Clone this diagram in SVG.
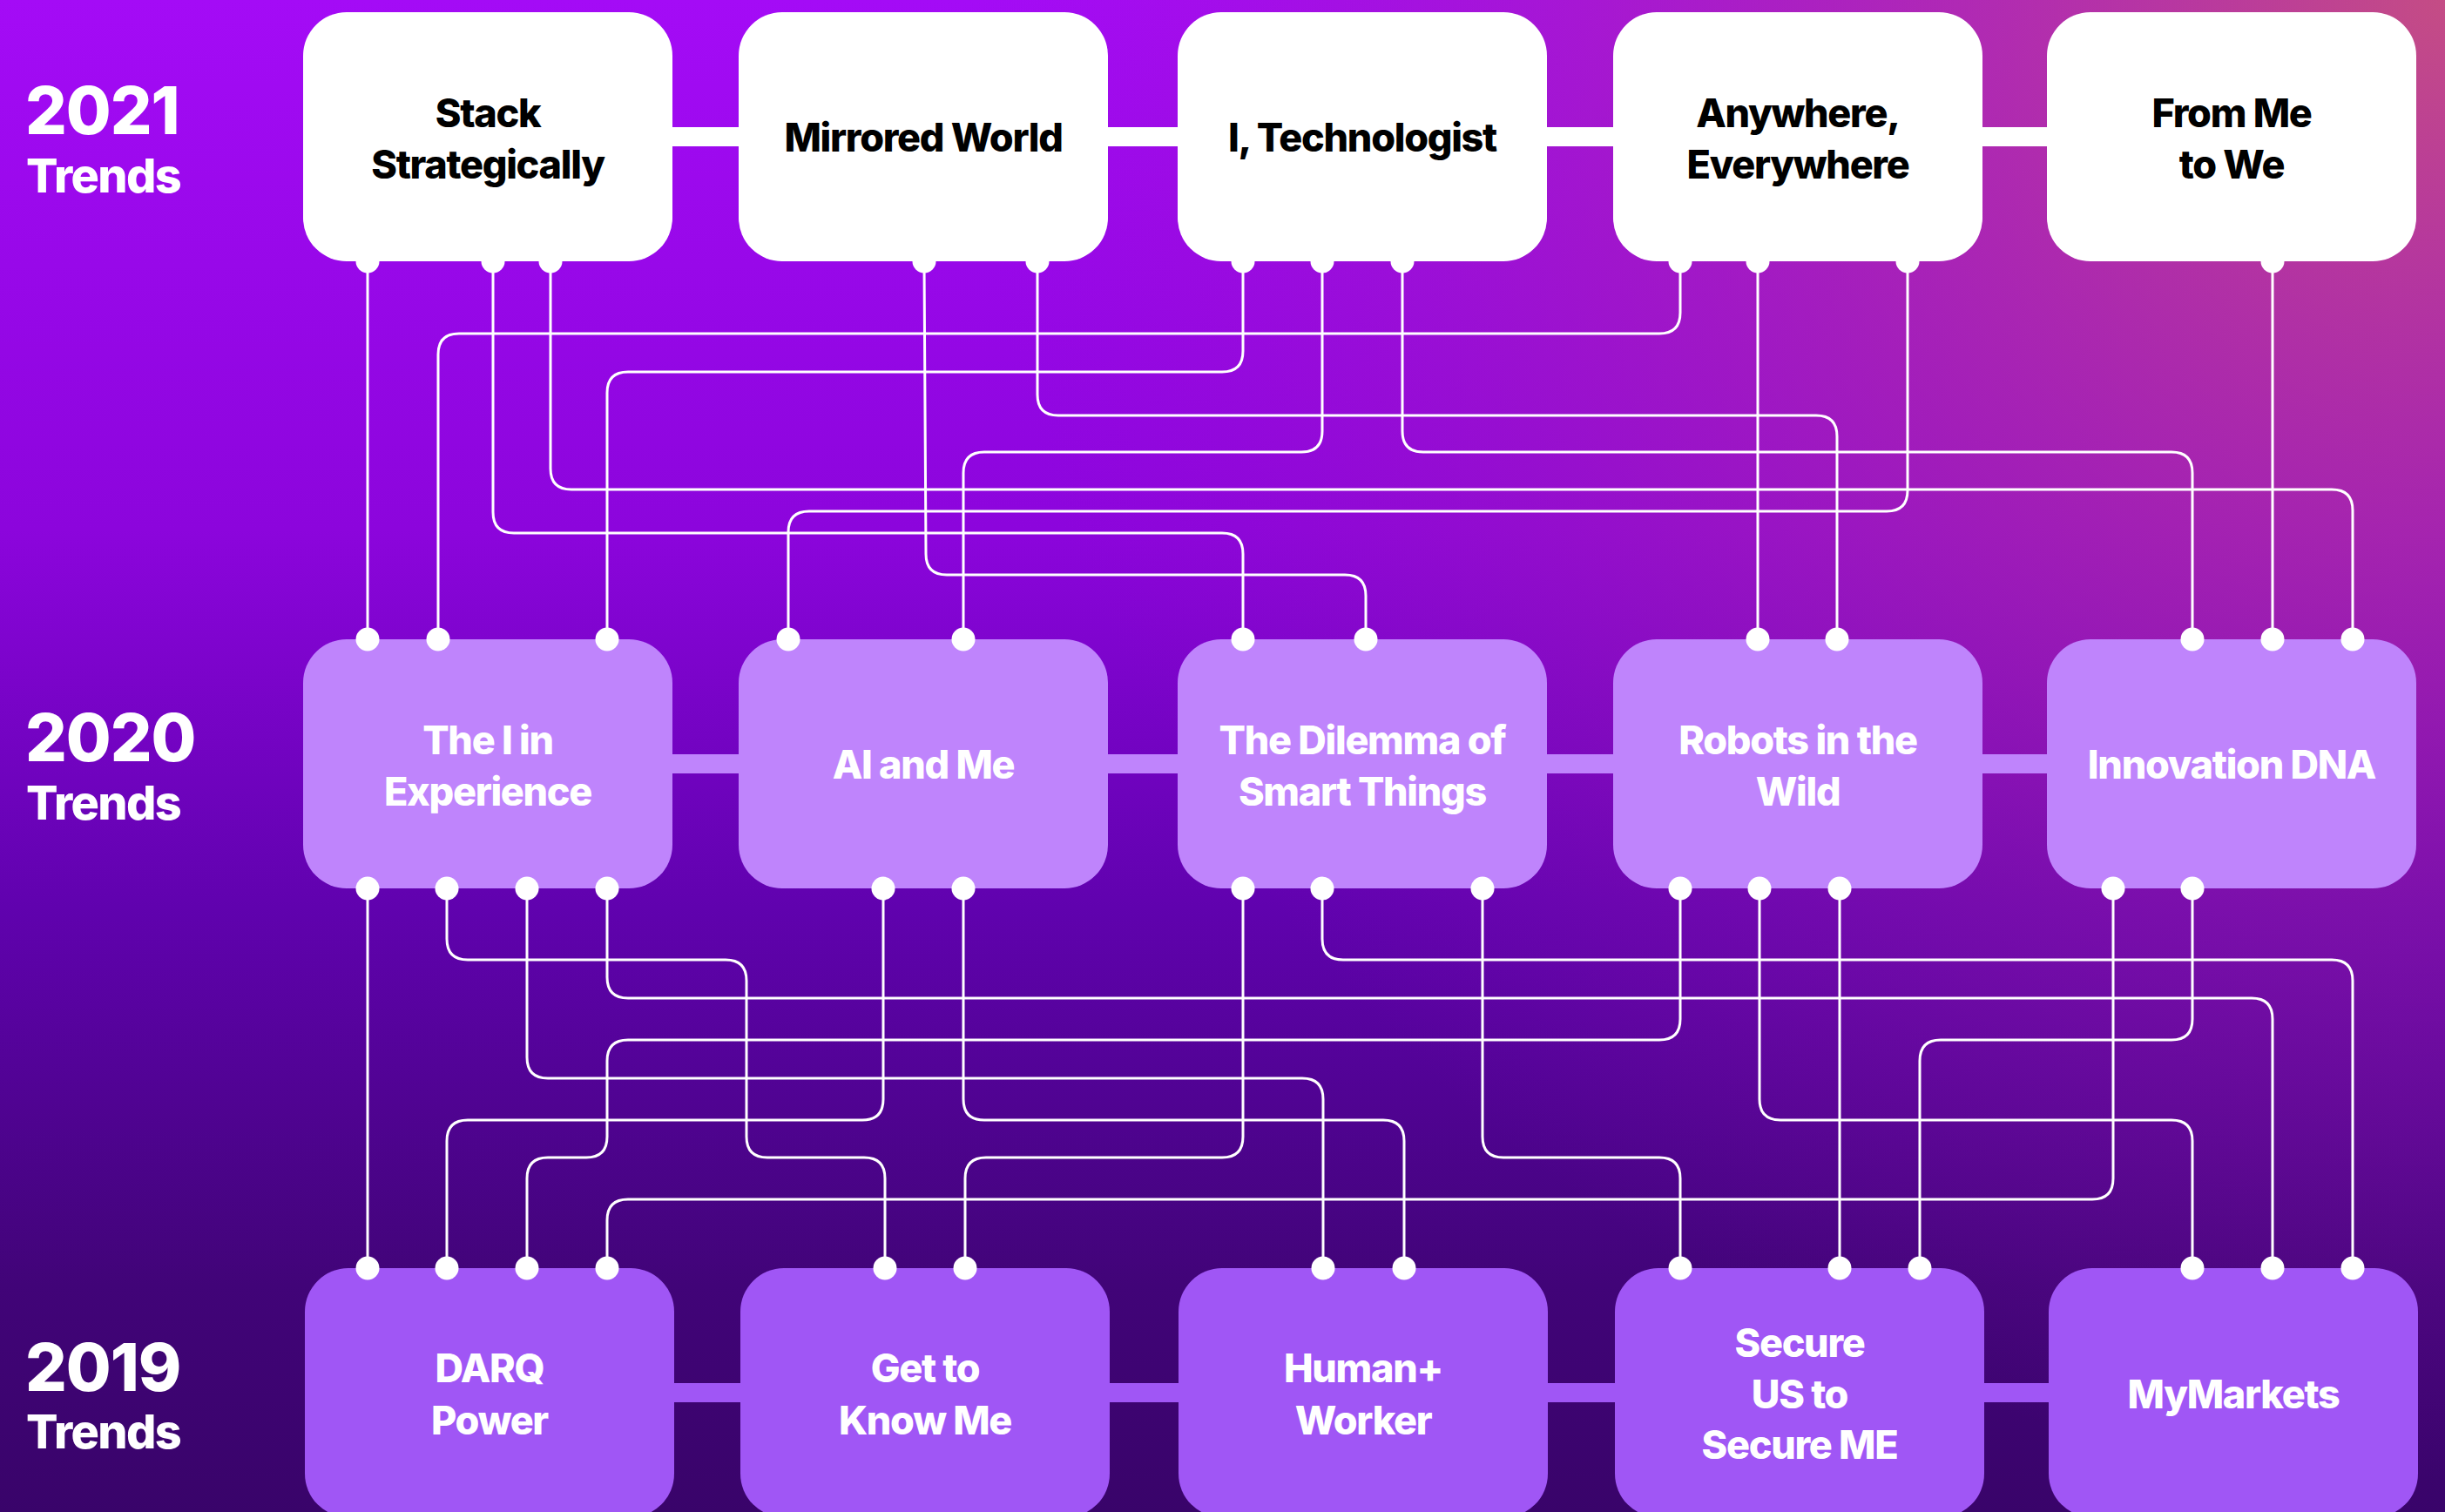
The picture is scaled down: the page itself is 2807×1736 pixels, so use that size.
<svg xmlns="http://www.w3.org/2000/svg" width="2807" height="1736" viewBox="0 0 2807 1736">
  <defs>
    <linearGradient id="bgBase" x1="0" y1="0" x2="0" y2="1">
      <stop offset="0" stop-color="#A40BF6"/>
      <stop offset="0.35" stop-color="#8C05DC"/>
      <stop offset="0.6" stop-color="#6002AE"/>
      <stop offset="0.85" stop-color="#410478"/>
      <stop offset="1" stop-color="#39046A"/>
    </linearGradient>
    <radialGradient id="bgRose" cx="2807" cy="0" r="1700" gradientUnits="userSpaceOnUse">
      <stop offset="0" stop-color="#C6507F" stop-opacity="0.95"/>
      <stop offset="0.45" stop-color="#B0309A" stop-opacity="0.55"/>
      <stop offset="1" stop-color="#9A10C0" stop-opacity="0"/>
    </radialGradient>
  </defs>
  <style>
    .box21 { fill: #FFFFFF; }
    .box20 { fill: #BF84FC; }
    .box19 { fill: #A056F5; }
    .lbl { font-family: Inter, "Liberation Sans", sans-serif; font-weight: 800; font-size: 45px; letter-spacing: -1.3px; text-anchor: middle; }
    .dark { fill: #000000; }
    .light { fill: #FFFFFF; }
    .year { font-family: Inter, "Liberation Sans", sans-serif; font-weight: 800; font-size: 75px; letter-spacing: -1px; fill: #FFFFFF; }
    .trends { font-family: Inter, "Liberation Sans", sans-serif; font-weight: 800; font-size: 54px; letter-spacing: -1.6px; fill: #FFFFFF; }
    .wire { fill: none; stroke: #FFFFFF; stroke-width: 3; }
    .port { fill: #FFFFFF; }
  </style>

  <!-- backdrop -->
  <rect x="0" y="0" width="2807" height="1736" fill="url(#bgBase)"/>
  <rect x="0" y="0" width="2807" height="1736" fill="url(#bgRose)"/>

  <!-- row captions -->
  <g id="captions">
    <text class="year" x="29" y="154">2021</text>
    <text class="trends" x="30" y="221">Trends</text>
    <text class="year" x="29" y="874">2020</text>
    <text class="trends" x="30" y="941">Trends</text>
    <text class="year" x="29" y="1597">2019</text>
    <text class="trends" x="30" y="1663">Trends</text>
  </g>

  <!-- bars joining the boxes of each row -->
  <g id="row-bars">
    <rect class="box21" x="760" y="146" width="1600" height="22"/>
    <rect class="box21" x="1760" y="146" width="600" height="22"/>
    <rect class="box20" x="760" y="866" width="1600" height="22"/>
    <rect class="box20" x="1760" y="866" width="600" height="22"/>
    <rect class="box19" x="760" y="1588" width="1600" height="22"/>
    <rect class="box19" x="1760" y="1588" width="600" height="22"/>
  </g>

  <!-- connectors between the years -->
  <g id="connectors">
    <!-- 2021 to 2020 -->
    <path class="wire" d="M422 300 V734"/>
    <path class="wire" d="M566 300 V588 Q566 612 590 612 H1403 Q1427 612 1427 636 V734"/>
    <path class="wire" d="M632 300 V538 Q632 562 656 562 H2677 Q2701 562 2701 586 V734"/>
    <path class="wire" d="M1061 300 L1063 636 Q1063 660 1087 660 H1544 Q1568 660 1568 684 V734"/>
    <path class="wire" d="M1191 300 V453 Q1191 477 1215 477 H2085 Q2109 477 2109 501 V734"/>
    <path class="wire" d="M1427 300 V403 Q1427 427 1403 427 H721 Q697 427 697 451 V734"/>
    <path class="wire" d="M1518 300 V495 Q1518 519 1494 519 H1130 Q1106 519 1106 543 V734"/>
    <path class="wire" d="M1610 300 V495 Q1610 519 1634 519 H2493 Q2517 519 2517 543 V734"/>
    <path class="wire" d="M1929 300 V359 Q1929 383 1905 383 H527 Q503 383 503 407 V734"/>
    <path class="wire" d="M2018 300 V734"/>
    <path class="wire" d="M2190 300 V563 Q2190 587 2166 587 H929 Q905 587 905 611 V734"/>
    <path class="wire" d="M2609 300 V734"/>
    <!-- 2020 to 2019 -->
    <path class="wire" d="M422 1020 V1456"/>
    <path class="wire" d="M513 1020 V1078 Q513 1102 537 1102 H833 Q857 1102 857 1126 V1305 Q857 1329 881 1329 H992 Q1016 1329 1016 1353 V1456"/>
    <path class="wire" d="M605 1020 V1214 Q605 1238 629 1238 H1495 Q1519 1238 1519 1262 V1456"/>
    <path class="wire" d="M697 1020 V1122 Q697 1146 721 1146 H2585 Q2609 1146 2609 1170 V1456"/>
    <path class="wire" d="M1014 1020 V1262 Q1014 1286 990 1286 H537 Q513 1286 513 1310 V1456"/>
    <path class="wire" d="M1106 1020 V1262 Q1106 1286 1130 1286 H1588 Q1612 1286 1612 1310 V1456"/>
    <path class="wire" d="M1427 1020 V1305 Q1427 1329 1403 1329 H1132 Q1108 1329 1108 1353 V1456"/>
    <path class="wire" d="M1518 1020 V1078 Q1518 1102 1542 1102 H2677 Q2701 1102 2701 1126 V1456"/>
    <path class="wire" d="M1702 1020 V1305 Q1702 1329 1726 1329 H1905 Q1929 1329 1929 1353 V1456"/>
    <path class="wire" d="M1929 1020 V1170 Q1929 1194 1905 1194 H721 Q697 1194 697 1218 V1305 Q697 1329 673 1329 H629 Q605 1329 605 1353 V1456"/>
    <path class="wire" d="M2020 1020 V1262 Q2020 1286 2044 1286 H2493 Q2517 1286 2517 1310 V1456"/>
    <path class="wire" d="M2112 1020 V1456"/>
    <path class="wire" d="M2426 1020 V1353 Q2426 1377 2402 1377 H721 Q697 1377 697 1401 V1456"/>
    <path class="wire" d="M2517 1020 V1170 Q2517 1194 2493 1194 H2228 Q2204 1194 2204 1218 V1456"/>
  </g>

  <!-- 2021 trends -->
  <g id="stack-strategically">
    <rect class="box21" x="348" y="14" width="424" height="286" rx="50"/>
    <text class="lbl dark" x="560" y="146">Stack</text>
    <text class="lbl dark" x="560" y="205">Strategically</text>
  </g>
  <g id="mirrored-world">
    <rect class="box21" x="848" y="14" width="424" height="286" rx="50"/>
    <text class="lbl dark" x="1060" y="174">Mirrored World</text>
  </g>
  <g id="i-technologist">
    <rect class="box21" x="1352" y="14" width="424" height="286" rx="50"/>
    <text class="lbl dark" x="1564" y="174">I, Technologist</text>
  </g>
  <g id="anywhere-everywhere">
    <rect class="box21" x="1852" y="14" width="424" height="286" rx="50"/>
    <text class="lbl dark" x="2064" y="146">Anywhere,</text>
    <text class="lbl dark" x="2064" y="205">Everywhere</text>
  </g>
  <g id="from-me-to-we">
    <rect class="box21" x="2350" y="14" width="424" height="286" rx="50"/>
    <text class="lbl dark" x="2562" y="146">From Me</text>
    <text class="lbl dark" x="2562" y="205">to We</text>
  </g>

  <!-- 2020 trends -->
  <g id="i-in-experience">
    <rect class="box20" x="348" y="734" width="424" height="286" rx="50"/>
    <text class="lbl light" x="560" y="866">The I in</text>
    <text class="lbl light" x="560" y="925">Experience</text>
  </g>
  <g id="ai-and-me">
    <rect class="box20" x="848" y="734" width="424" height="286" rx="50"/>
    <text class="lbl light" x="1060" y="894">AI and Me</text>
  </g>
  <g id="dilemma-of-smart-things">
    <rect class="box20" x="1352" y="734" width="424" height="286" rx="50"/>
    <text class="lbl light" x="1564" y="866">The Dilemma of</text>
    <text class="lbl light" x="1564" y="925">Smart Things</text>
  </g>
  <g id="robots-in-the-wild">
    <rect class="box20" x="1852" y="734" width="424" height="286" rx="50"/>
    <text class="lbl light" x="2064" y="866">Robots in the</text>
    <text class="lbl light" x="2064" y="925">Wild</text>
  </g>
  <g id="innovation-dna">
    <rect class="box20" x="2350" y="734" width="424" height="286" rx="50"/>
    <text class="lbl light" x="2562" y="894">Innovation DNA</text>
  </g>

  <!-- 2019 trends -->
  <g id="darq-power">
    <rect class="box19" x="350" y="1456" width="424" height="286" rx="50"/>
    <text class="lbl light" x="562" y="1587">DARQ</text>
    <text class="lbl light" x="562" y="1647">Power</text>
  </g>
  <g id="get-to-know-me">
    <rect class="box19" x="850" y="1456" width="424" height="286" rx="50"/>
    <text class="lbl light" x="1062" y="1587">Get to</text>
    <text class="lbl light" x="1062" y="1647">Know Me</text>
  </g>
  <g id="human-plus-worker">
    <rect class="box19" x="1353" y="1456" width="424" height="286" rx="50"/>
    <text class="lbl light" x="1565" y="1587">Human+</text>
    <text class="lbl light" x="1565" y="1647">Worker</text>
  </g>
  <g id="secure-us-to-secure-me">
    <rect class="box19" x="1854" y="1456" width="424" height="286" rx="50"/>
    <text class="lbl light" x="2066" y="1558">Secure</text>
    <text class="lbl light" x="2066" y="1617">US to</text>
    <text class="lbl light" x="2066" y="1675">Secure ME</text>
  </g>
  <g id="mymarkets">
    <rect class="box19" x="2352" y="1456" width="424" height="286" rx="50"/>
    <text class="lbl light" x="2564" y="1617">MyMarkets</text>
  </g>

  <!-- connector end points -->
  <g id="ports">
    <circle class="port" cx="422" cy="300" r="13.5"/>
    <circle class="port" cx="566" cy="300" r="13.5"/>
    <circle class="port" cx="632" cy="300" r="13.5"/>
    <circle class="port" cx="1061" cy="300" r="13.5"/>
    <circle class="port" cx="1191" cy="300" r="13.5"/>
    <circle class="port" cx="1427" cy="300" r="13.5"/>
    <circle class="port" cx="1518" cy="300" r="13.5"/>
    <circle class="port" cx="1610" cy="300" r="13.5"/>
    <circle class="port" cx="1929" cy="300" r="13.5"/>
    <circle class="port" cx="2018" cy="300" r="13.5"/>
    <circle class="port" cx="2190" cy="300" r="13.5"/>
    <circle class="port" cx="2609" cy="300" r="13.5"/>

    <circle class="port" cx="422" cy="734" r="13.5"/>
    <circle class="port" cx="503" cy="734" r="13.5"/>
    <circle class="port" cx="697" cy="734" r="13.5"/>
    <circle class="port" cx="905" cy="734" r="13.5"/>
    <circle class="port" cx="1106" cy="734" r="13.5"/>
    <circle class="port" cx="1427" cy="734" r="13.5"/>
    <circle class="port" cx="1568" cy="734" r="13.5"/>
    <circle class="port" cx="2018" cy="734" r="13.5"/>
    <circle class="port" cx="2109" cy="734" r="13.5"/>
    <circle class="port" cx="2517" cy="734" r="13.5"/>
    <circle class="port" cx="2609" cy="734" r="13.5"/>
    <circle class="port" cx="2701" cy="734" r="13.5"/>

    <circle class="port" cx="422" cy="1020" r="13.5"/>
    <circle class="port" cx="513" cy="1020" r="13.5"/>
    <circle class="port" cx="605" cy="1020" r="13.5"/>
    <circle class="port" cx="697" cy="1020" r="13.5"/>
    <circle class="port" cx="1014" cy="1020" r="13.5"/>
    <circle class="port" cx="1106" cy="1020" r="13.5"/>
    <circle class="port" cx="1427" cy="1020" r="13.5"/>
    <circle class="port" cx="1518" cy="1020" r="13.5"/>
    <circle class="port" cx="1702" cy="1020" r="13.5"/>
    <circle class="port" cx="1929" cy="1020" r="13.5"/>
    <circle class="port" cx="2020" cy="1020" r="13.5"/>
    <circle class="port" cx="2112" cy="1020" r="13.5"/>
    <circle class="port" cx="2426" cy="1020" r="13.5"/>
    <circle class="port" cx="2517" cy="1020" r="13.5"/>

    <circle class="port" cx="422" cy="1456" r="13.5"/>
    <circle class="port" cx="513" cy="1456" r="13.5"/>
    <circle class="port" cx="605" cy="1456" r="13.5"/>
    <circle class="port" cx="697" cy="1456" r="13.5"/>
    <circle class="port" cx="1016" cy="1456" r="13.5"/>
    <circle class="port" cx="1108" cy="1456" r="13.5"/>
    <circle class="port" cx="1519" cy="1456" r="13.5"/>
    <circle class="port" cx="1612" cy="1456" r="13.5"/>
    <circle class="port" cx="1929" cy="1456" r="13.5"/>
    <circle class="port" cx="2112" cy="1456" r="13.5"/>
    <circle class="port" cx="2204" cy="1456" r="13.5"/>
    <circle class="port" cx="2517" cy="1456" r="13.5"/>
    <circle class="port" cx="2609" cy="1456" r="13.5"/>
    <circle class="port" cx="2701" cy="1456" r="13.5"/>
  </g>
</svg>
